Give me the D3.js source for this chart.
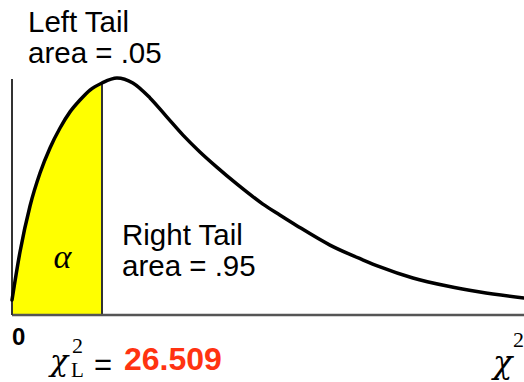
<!DOCTYPE html>
<html lang="en">
<head>
  <meta charset="utf-8">
  <title>Chi-square left tail</title>
  <script src="https://d3js.org/d3.v7.min.js"></script>
  <style>
    body { margin: 0; background: #fff; }
    text { font-family: "Liberation Sans", Arial, sans-serif; }
    .greek { font-family: "DejaVu Serif", serif; font-style: italic; }
    .serif { font-family: "Liberation Serif", "Times New Roman", serif; }
  </style>
</head>
<body>
<script>

  // curve: x in 0..100, height in 0..1
  const curveX = [0, 1.56, 3.52, 5.47, 7.42, 9.38, 11.33, 13.28, 15.23, 17.58, 20.5, 23.6, 26.95, 30.27, 33.4, 36.7, 40.0, 43.9, 49.0, 52.3, 55.7, 62.1, 68.6, 71.9, 78.3, 85.0, 91.4, 100];
  const curveY = [0.063, 0.266, 0.460, 0.599, 0.705, 0.789, 0.857, 0.907, 0.949, 0.979, 1.0, 0.979, 0.916, 0.835, 0.759, 0.688, 0.624, 0.553, 0.468, 0.422, 0.376, 0.295, 0.232, 0.203, 0.156, 0.122, 0.097, 0.072];
  const critical = 17.58;

  const leftLabel = ["Left Tail", "area = .05"];
  const rightLabel = ["Right Tail", "area = .95"];
  const criticalValue = "26.509";

  const width = 524, height = 382;

  const svg = d3.select("body").append("svg")
    .attr("width", width)
    .attr("height", height);

  const x = d3.scaleLinear().domain([0, 100]).range([12, 524]);
  const y = d3.scaleLinear().domain([0, 1]).range([315, 78]);

  const pts = curveX.map((v, i) => ({ x: v, y: curveY[i] }));

  // shaded left tail
  const tail = pts.filter(d => d.x <= critical);
  svg.append("path")
    .datum(tail)
    .attr("fill", "#ffff00")
    .attr("d", d3.area()
      .x(d => x(d.x))
      .y0(y(0))
      .y1(d => y(d.y))
      .curve(d3.curveMonotoneX));

  // critical line
  const critY = curveY[curveX.indexOf(critical)];
  svg.append("line")
    .attr("x1", x(critical)).attr("x2", x(critical))
    .attr("y1", y(0)).attr("y2", y(critY))
    .attr("stroke", "#333").attr("stroke-width", 2);

  // axes
  svg.append("line")
    .attr("x1", x(0)).attr("x2", x(100))
    .attr("y1", y(0)).attr("y2", y(0))
    .attr("stroke", "#555").attr("stroke-width", 2.5);
  svg.append("line")
    .attr("x1", x(0)).attr("x2", x(0))
    .attr("y1", y(0)).attr("y2", y(1) + 1)
    .attr("stroke", "#333").attr("stroke-width", 2);

  // density curve
  svg.append("path")
    .datum(pts)
    .attr("fill", "none")
    .attr("stroke", "#000")
    .attr("stroke-width", 3.5)
    .attr("stroke-linecap", "round")
    .attr("d", d3.line()
      .x(d => x(d.x))
      .y(d => y(d.y))
      .curve(d3.curveMonotoneX));

  // labels
  svg.append("text").attr("x", 28).attr("y", 32).attr("font-size", 29.5).text(leftLabel[0]);
  svg.append("text").attr("x", 28).attr("y", 63).attr("font-size", 29.5).text(leftLabel[1]);
  svg.append("text").attr("x", 122).attr("y", 245).attr("font-size", 29.5).text(rightLabel[0]);
  svg.append("text").attr("x", 122).attr("y", 276).attr("font-size", 29.5).text(rightLabel[1]);

  svg.append("text").attr("class", "serif")
    .attr("x", 62.5).attr("y", 268).attr("text-anchor", "middle")
    .attr("font-size", 34).attr("font-style", "italic").text("α");

  svg.append("text")
    .attr("x", x(0)).attr("y", 345)
    .attr("font-size", 24).attr("font-weight", "bold").text("0");

  // chi-square critical value label
  svg.append("text").attr("class", "greek").attr("x", 50).attr("y", 371).attr("font-size", 30).text("χ");
  svg.append("text").attr("class", "serif").attr("x", 72).attr("y", 353).attr("font-size", 22).text("2");
  svg.append("text").attr("class", "serif").attr("x", 71).attr("y", 377).attr("font-size", 21).text("L");
  svg.append("text").attr("x", 94).attr("y", 375).attr("font-size", 31).text("=");
  svg.append("text").attr("x", 124).attr("y", 370)
    .attr("font-size", 32).attr("font-weight", "bold").attr("fill", "#ff3311")
    .text(criticalValue);

  // axis label at right
  svg.append("text").attr("class", "greek").attr("x", 493).attr("y", 373).attr("font-size", 32).text("χ");
  svg.append("text").attr("class", "serif").attr("x", 513).attr("y", 347).attr("font-size", 22).text("2");

</script>
</body>
</html>
